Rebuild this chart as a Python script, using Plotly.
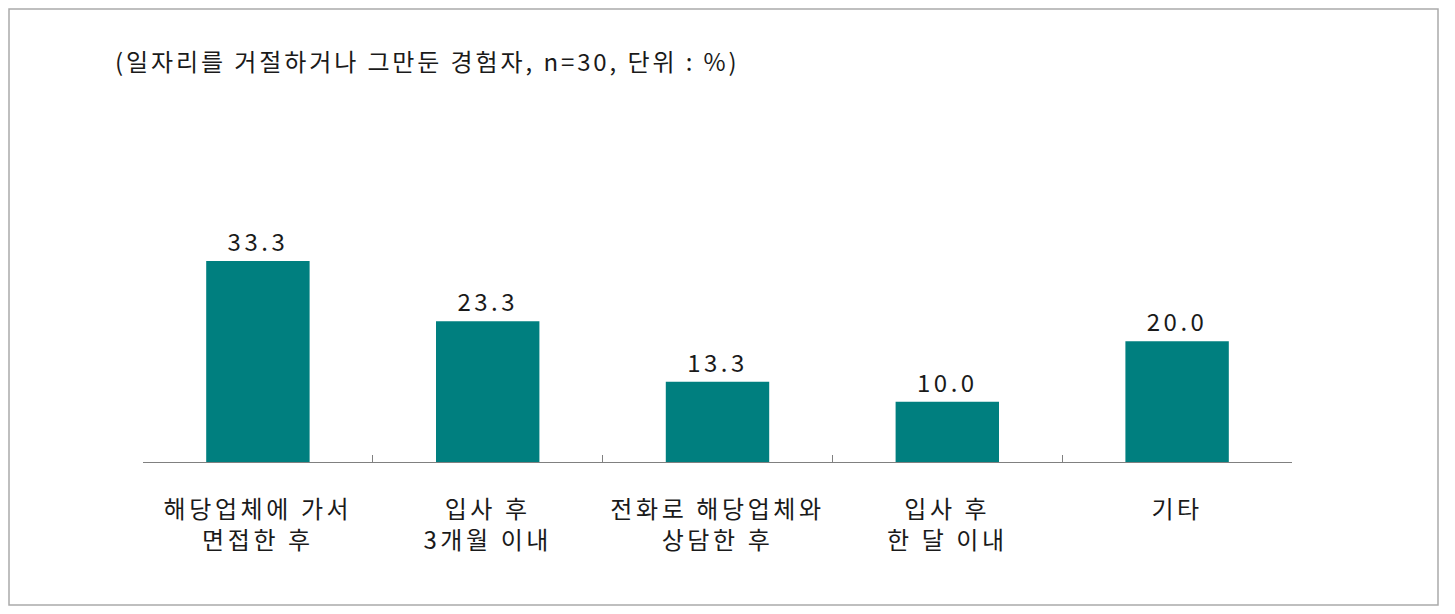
import plotly.graph_objects as go

categories = ["해당업체에 가서<br>면접한 후", "입사 후<br>3개월 이내", "전화로 해당업체와<br>상담한 후", "입사 후<br>한 달 이내", "기타"]
values = [33.3, 23.3, 13.3, 10.0, 20.0]
value_labels = ["33.3", "23.3", "13.3", "10.0", "20.0"]
title_text = "(일자리를 거절하거나 그만둔 경험자, n=30, 단위 : %)"

W, H = 1455, 614
L, R, T, B = 143, 163, 220, 152
FONT = "Noto Sans CJK KR"


def spaced(s, px):
    return "<br>".join(f'<span style="letter-spacing:{px}px">{p}</span>' for p in s.split("<br>"))


fig = go.Figure(go.Bar(
    x=list(range(len(categories))), y=values,
    text=[spaced(v, 3.5) for v in value_labels], textposition="outside",
    textfont=dict(size=24, color="#1a1a1a", family=FONT),
    marker=dict(color="#007F7F", line=dict(width=0)),
    width=0.45, cliponaxis=False,
))

pw = W - L - R
ph = H - T - B
fig.update_layout(
    width=W, height=H,
    margin=dict(l=L, r=R, t=T, b=B, pad=0),
    plot_bgcolor="white", paper_bgcolor="white",
    showlegend=False,
    font=dict(family=FONT, color="#1a1a1a"),
    xaxis=dict(
        type="category",
        tickvals=list(range(len(categories))),
        ticktext=[spaced(c, 3.6) for c in categories],
        showline=True, linecolor="#808080", linewidth=1,
        ticks="inside", tickson="boundaries", ticklen=7, tickcolor="#808080",
        tickfont=dict(size=24, family=FONT, color="#1a1a1a"),
        showgrid=False, ticklabelstandoff=26,
    ),
    yaxis=dict(range=[0, 40.09], visible=False, showgrid=False),
    bargap=0.55,
    shapes=[dict(
        type="rect", xref="paper", yref="paper",
        x0=(9 - L) / pw, x1=(1438 - L) / pw,
        y0=(H - B - 605) / ph, y1=(H - B - 9) / ph,
        line=dict(color="#AAAAAA", width=1.5), fillcolor="rgba(0,0,0,0)", layer="below",
    )],
    annotations=[dict(
        text=spaced(title_text, 2.9), xref="paper", yref="paper",
        x=(113 - L) / pw, y=(H - B - 60) / ph, xanchor="left", yanchor="middle",
        showarrow=False, font=dict(size=24, family=FONT, color="#1a1a1a"),
    )],
)

fig.write_html("out.html")
